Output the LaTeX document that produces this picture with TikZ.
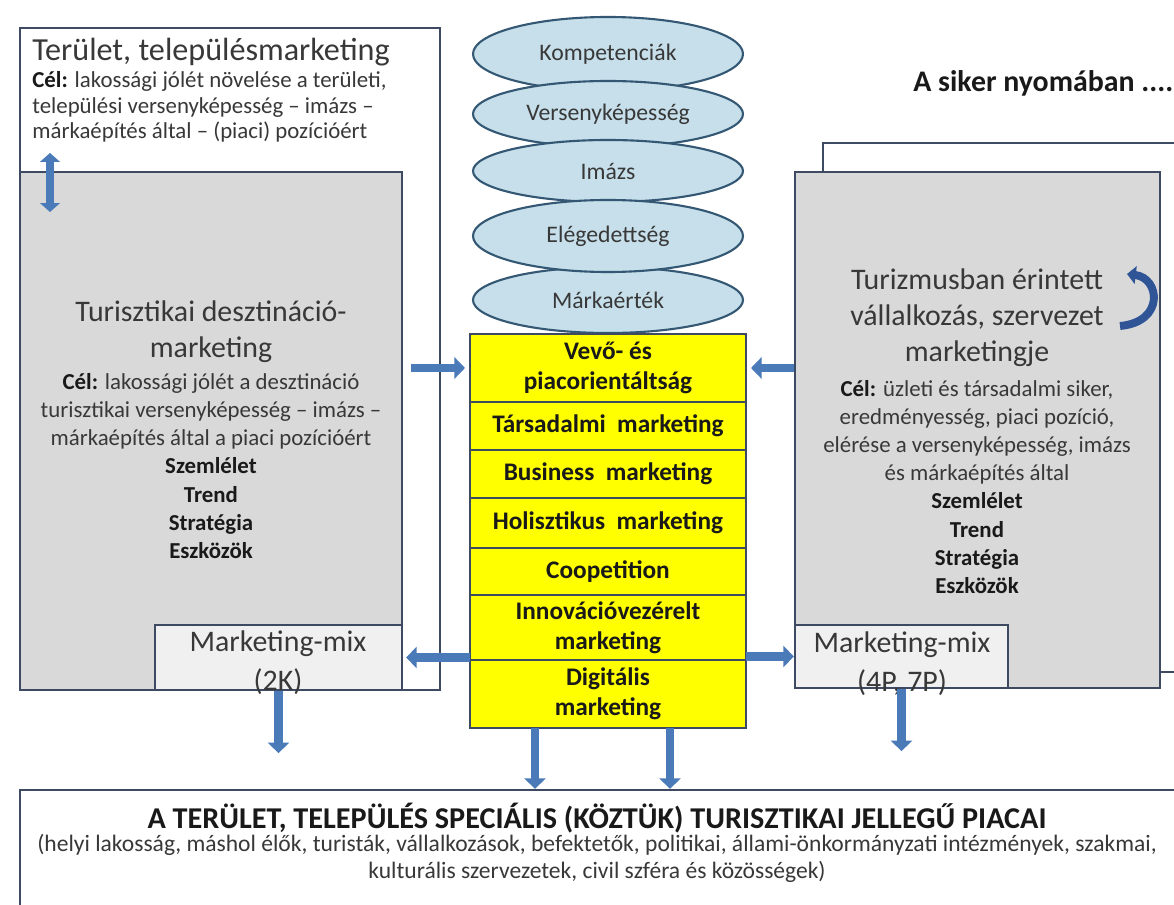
\documentclass[tikz,border=0pt]{standalone}
\usepackage{fontspec}
\setmainfont{Carlito}
\usetikzlibrary{%
	arrows.meta,%
	shapes.geometric,%
	positioning,%
	fit,%
	calc,%
}
\definecolor{cframe}{RGB}{62, 74, 98}
\definecolor{cgrey}{RGB}{217, 217, 217}
\definecolor{cgreylight}{RGB}{240, 240, 240}
\definecolor{cellfill}{RGB}{198, 223, 234}
\definecolor{cellline}{RGB}{52, 88, 116}
\definecolor{cyellow}{RGB}{255, 255, 0}
\definecolor{carrow}{RGB}{74, 122, 184}
\definecolor{carrowdark}{RGB}{47, 85, 151}
\definecolor{ctext}{RGB}{56, 56, 56}
\definecolor{cdark}{RGB}{25, 25, 25}
\newcommand{\pxu}{0.02cm}
\newcommand{\cel}{\textbf{\color{cdark}Cél:}}
\tikzset{
	>=Triangle,%
	nodes={align=center},%
	boxframe/.style={%
			draw=cframe,%
			line width=1.3pt,%
			inner sep=0pt},%
	whitebox/.style={boxframe, fill=white},%
	greybox/.style={boxframe, fill=cgrey},%
	mixbox/.style={boxframe, fill=cgreylight},%
	valuenode/.style={%
			ellipse,%
			draw=cellline,%
			line width=1.2pt,%
			fill=cellfill,%
			minimum width=270*\pxu,%
			inner sep=0pt,%
			text=ctext,%
			font=\fontsize{13.5}{15}\selectfont},%
	layernode/.style={%
			rectangle,%
			draw=cframe,%
			line width=1.1pt,%
			fill=cyellow,%
			minimum width=276*\pxu,%
			inner sep=0pt,%
			outer sep=0pt,%
			text=cdark,%
			font=\bfseries\fontsize{14.4}{17}\selectfont},%
	boxtitle/.style={text=ctext, inner sep=0pt, font=\fontsize{17}{20.4}\selectfont},%
	goaltext/.style={text=ctext, inner sep=0pt, font=\fontsize{13}{16}\selectfont},%
	blockarrow/.style={%
			draw=carrow,%
			line width=5pt,%
			-{Triangle[length=6pt, width=12pt]}},%
}

\begin{document}
\begin{tikzpicture}[x=0.02cm, y=-0.02cm]
	\useasboundingbox (0,0) rectangle (1174,905);
	\clip (0,0) rectangle (1174,905);

	% left column
	\node[whitebox, fit={(20,28) (440,690)}] (telep) {};
	\node[greybox, fit={(20,172) (402,690)}] (dest) {};
	\node[mixbox, fit={(155,625) (402,690)}] (mixleft) {};

	\node[text=ctext, inner sep=0pt, anchor=west, font=\fontsize{18.3}{21}\selectfont] (telephead) at (32,52) {Terület, településmarketing};
	\node[goaltext, anchor=west, align=left, font=\fontsize{13}{14.5}\selectfont] (telepgoal) at (32,107) {\cel{} lakossági jólét növelése a területi,\\
		települési versenyképesség – imázs –\\
		márkaépítés által – (piaci) pozícióért};

	\node[boxtitle] (desthead) at (211,332) {Turisztikai desztináció-\\marketing};
	\node[goaltext] (destgoal) at (211,466) {\cel{} lakossági jólét a desztináció\\
		turisztikai versenyképesség – imázs –\\
		márkaépítés által a piaci pozícióért\\
		\textbf{\color{cdark}Szemlélet}\\
		\textbf{\color{cdark}Trend}\\
		\textbf{\color{cdark}Stratégia}\\
		\textbf{\color{cdark}Eszközök}};
	\node[boxtitle, font=\fontsize{17}{22}\selectfont] (mixlefttext) at (278,663) {Marketing-mix\\(2K)};

	% right column
	\node[whitebox, fit={(823,143) (1200,672)}] (orgback) {};
	\node[greybox, fit={(795,172) (1160,688)}] (org) {};
	\node[mixbox, fit={(795,625) (1008,688)}] (mixright) {};

	\node[text=cdark, inner sep=0pt, anchor=west, font=\bfseries\fontsize{17}{20}\selectfont] (motto) at (913,83) {A siker nyomában ....};
	\node[boxtitle] (orghead) at (977,318) {Turizmusban érintett\\vállalkozás, szervezet\\marketingje};
	\node[goaltext] (orggoal) at (977,487) {\cel{} üzleti és társadalmi siker,\\
		eredményesség, piaci pozíció,\\
		elérése a versenyképesség, imázs\\
		és márkaépítés által\\
		\textbf{\color{cdark}Szemlélet}\\
		\textbf{\color{cdark}Trend}\\
		\textbf{\color{cdark}Stratégia}\\
		\textbf{\color{cdark}Eszközök}};
	\node[boxtitle, font=\fontsize{17}{22}\selectfont] (mixrighttext) at (902,664) {Marketing-mix\\(4P, 7P)};

	% values
	\node[valuenode, minimum height=74*\pxu] (kompetencia) at (608,54) {Kompetenciák};
	\node[valuenode, minimum height=66*\pxu] (verseny) at (608,114) {Versenyképesség};
	\node[valuenode, minimum height=62*\pxu] (imazs) at (608,171) {Imázs};
	\node[valuenode, minimum height=66*\pxu] (markaertek) at (608,300) {Márkaérték};
	\node[valuenode, minimum height=72*\pxu] (elegedett) at (608,236) {Elégedettség};

	% marketing layers
	\node[layernode, minimum height=68*\pxu, anchor=north] (vevo) at (608,334) {Vevő- és\\piacorientáltság};
	\node[layernode, minimum height=48*\pxu, below=0pt of vevo] (tarsadalmi) {Társadalmi\ \ marketing};
	\node[layernode, minimum height=48*\pxu, below=0pt of tarsadalmi] (business) {Business\ \ marketing};
	\node[layernode, minimum height=50*\pxu, below=0pt of business] (holisztikus) {Holisztikus\ \ marketing};
	\node[layernode, minimum height=47*\pxu, below=0pt of holisztikus] (coop) {Coopetition};
	\node[layernode, minimum height=65*\pxu, below=0pt of coop] (innovacio) {Innovációvezérelt\\marketing};
	\node[layernode, minimum height=68*\pxu, below=0pt of innovacio] (digitalis) {Digitális\\marketing};

	% markets
	\node[whitebox, fit={(20,790) (1200,940)}] (piacok) {};
	\node[text=cdark, inner sep=0pt, font=\bfseries\fontsize{17.2}{20}\selectfont] (piachead) at (597,818) {A TERÜLET, TELEPÜLÉS SPECIÁLIS (KÖZTÜK) TURISZTIKAI JELLEGŰ PIACAI};
	\node[goaltext, font=\fontsize{13.4}{15.3}\selectfont] (piaclist) at (597,858) {(helyi lakosság, máshol élők, turisták, vállalkozások, befektetők, politikai, állami-önkormányzati intézmények, szakmai,\\
		kulturális szervezetek, civil szféra és közösségek)};

	\coordinate (dbltop) at (50,153);
	\coordinate (dblbottom) at (50,212);
	\coordinate (looptail) at (1120,326);
	\coordinate (loophead) at (1127,274);
	\coordinate[below=1.24cm of mixleft.south] (mixleftend);
	\coordinate[below=1.24cm of mixright.south] (mixrightend);

	\draw[blockarrow, {Triangle[length=5pt, width=11pt]}-{Triangle[length=5pt, width=11pt]}] (dbltop) to (dblbottom);
	\draw[blockarrow, draw=carrowdark, line width=4.5pt, -{Triangle[length=5pt, width=10pt]}] (looptail) .. controls (1165,322) and (1160,278) .. (loophead);
	\draw[blockarrow] ([xshift=8*\pxu]dest.east |- vevo.west) to ([xshift=-5*\pxu]vevo.west);
	\draw[blockarrow] (org.west |- vevo.east) to ([xshift=5*\pxu]vevo.east);
	\draw[blockarrow] (innovacio.west |- mixleft.east) to ([xshift=3*\pxu]mixleft.east);
	\draw[blockarrow] (innovacio.east |- mixright.west) to (mixright.west);
	\draw[blockarrow] (mixleft.south) to (mixleftend);
	\draw[blockarrow] (mixright.south) to (mixrightend);
	\draw[blockarrow] ([xshift=-73*\pxu]digitalis.south) to ([xshift=-73*\pxu]digitalis.south |- piacok.north);
	\draw[blockarrow] ([xshift=62*\pxu]digitalis.south) to ([xshift=62*\pxu]digitalis.south |- piacok.north);
\end{tikzpicture}
\end{document}
